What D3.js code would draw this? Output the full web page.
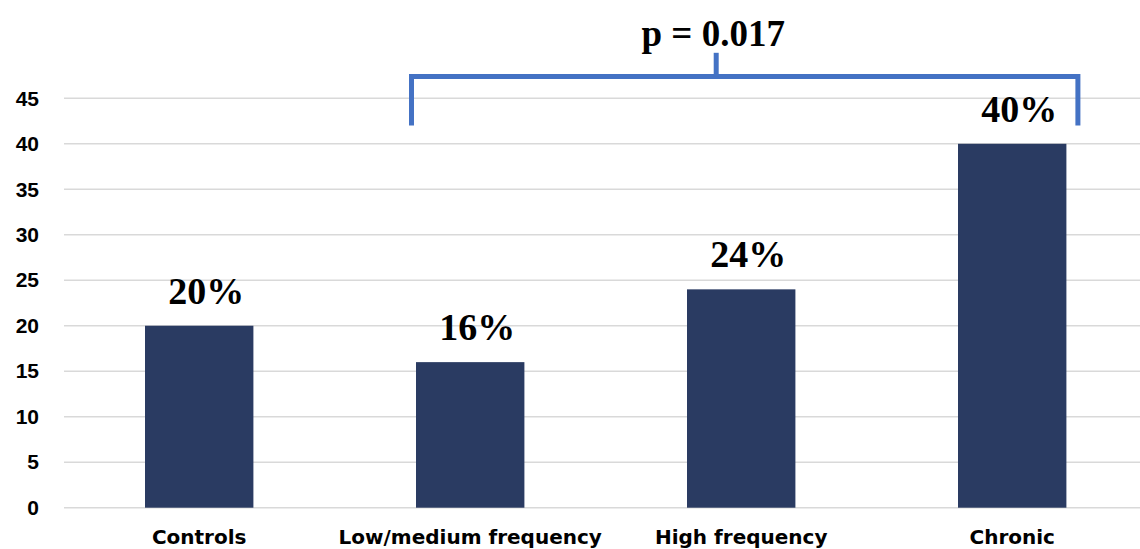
<!DOCTYPE html>
<html><head><meta charset="utf-8">
<script src="https://cdn.jsdelivr.net/npm/d3@7"></script>
<style>html,body{margin:0;padding:0;background:#fff;}</style>
</head><body>
<script>
const categories = ["Controls", "Low/medium frequency", "High frequency", "Chronic"];
const values = [20, 16, 24, 40];
const valueLabels = ["20%", "16%", "24%", "40%"];
const yTicks = [0, 5, 10, 15, 20, 25, 30, 35, 40, 45];
const pLabel = "p = 0.017";
const bracketFrom = "Low/medium frequency";
const bracketTo = "Chronic";

const W = 1140, H = 549;
const svg = d3.select("body").append("svg").attr("width", W).attr("height", H);

const x = d3.scaleBand().domain(categories).range([63.7, 1147.7]).paddingInner(0.6).paddingOuter(0.3);
const y = d3.scaleLinear().domain([0, 50]).range([507.7, 52.8]);

// gridlines
svg.append("g").selectAll("line").data(yTicks).join("line")
  .attr("x1", 64).attr("x2", W)
  .attr("y1", d => y(d)).attr("y2", d => y(d))
  .attr("stroke", "#d9d9d9").attr("stroke-width", 1.5);

// y axis labels
const yAxis = d3.axisLeft(y).tickValues(yTicks).tickSize(0).tickPadding(0);
const gy = svg.append("g").attr("transform", "translate(39,0)").call(yAxis);
gy.select(".domain").remove();
gy.selectAll("text").attr("font-family", "Liberation Sans").attr("font-weight", "bold")
  .attr("font-size", 21).attr("fill", "#000");

// bars
svg.append("g").selectAll("rect").data(values).join("rect")
  .attr("x", (d, i) => x(categories[i]))
  .attr("y", d => y(d))
  .attr("width", x.bandwidth())
  .attr("height", d => y(0) - y(d))
  .attr("fill", "#2a3b62");

// value labels
svg.append("g").selectAll("text").data(values).join("text")
  .attr("x", (d, i) => x(categories[i]) + x.bandwidth() / 2 + 7)
  .attr("y", d => y(d) - 22)
  .attr("text-anchor", "middle")
  .attr("font-family", "Liberation Serif").attr("font-weight", "bold").attr("font-size", 38)
  .attr("fill", "#000")
  .text((d, i) => valueLabels[i]);

// x axis labels
const xAxis = d3.axisBottom(x).tickSize(0).tickPadding(0);
const gx = svg.append("g").attr("transform", "translate(0,529)").call(xAxis);
gx.select(".domain").remove();
gx.selectAll("text").attr("font-family", "DejaVu Sans").attr("font-weight", "bold")
  .attr("font-size", 20).attr("fill", "#000").attr("dy", "0.75em");

// bracket
const bx1 = x(bracketFrom) - 4.5;
const bx2 = x(bracketTo) + x.bandwidth() + 11.5;
const byTop = y(47.4), byBot = y(42);
const btick = (x(bracketFrom) + x(bracketTo) + x.bandwidth()) / 2 - 25;
const bracketColor = "#4472c4";
svg.append("path")
  .attr("d", `M${bx1},${byBot} V${byTop} H${bx2} V${byBot}`)
  .attr("fill", "none").attr("stroke", bracketColor).attr("stroke-width", 5);
svg.append("line").attr("x1", btick).attr("x2", btick).attr("y1", byTop).attr("y2", y(50))
  .attr("stroke", bracketColor).attr("stroke-width", 5);

svg.append("text").attr("x", btick - 3).attr("y", 46)
  .attr("text-anchor", "middle")
  .attr("font-family", "Liberation Serif").attr("font-weight", "bold").attr("font-size", 37)
  .attr("fill", "#000").text(pLabel);
</script>
</body></html>
